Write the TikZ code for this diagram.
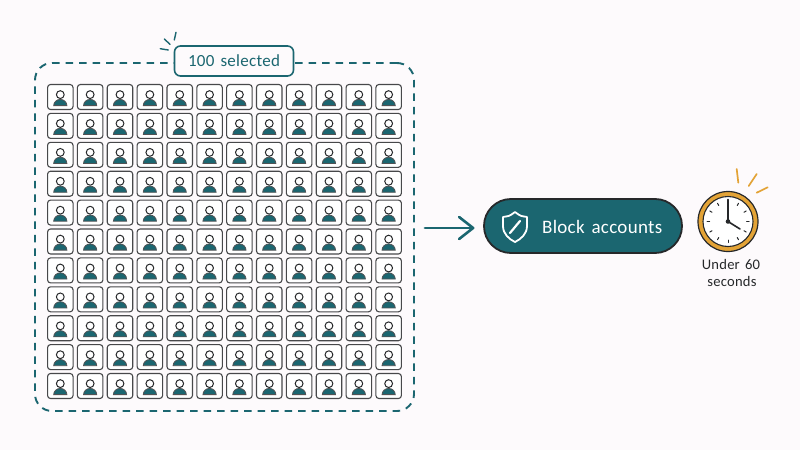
\documentclass[tikz,border=0pt]{standalone}
\usepackage{fontspec}
\usetikzlibrary{calc}
\setmainfont{Carlito}[LetterSpace=1.5,WordSpace=1.5]
\definecolor{pagebg}{HTML}{FDFAFC}
\definecolor{teal}{HTML}{1B6670}
\definecolor{ink}{HTML}{26282A}
\definecolor{gold}{HTML}{E3A336}
\tikzset{
  x=1pt,y=-1pt,
  userbox/.style={draw=ink!85,line width=1.1pt,rounded corners=3pt,fill=white,minimum width=25.5pt,minimum height=25pt,inner sep=0pt},
  frame/.style={draw=teal,line width=1.9pt,dashed,dash pattern=on 7.5pt off 6pt,rounded corners=17pt,minimum width=379pt,minimum height=348pt,inner sep=0pt},
  badge/.style={draw=teal,line width=1.6pt,rounded corners=6pt,fill=pagebg,text=teal,minimum width=119pt,minimum height=30pt,inner sep=0pt,font=\fontsize{17}{18}\selectfont},
  action/.style={draw=ink,line width=1.8pt,fill=teal,rounded corners=26.9pt,minimum width=198pt,minimum height=54pt,inner sep=0pt},
  actiontext/.style={text=white,inner sep=0pt,font=\fontsize{19}{22}\selectfont},
  caption/.style={text=ink,inner sep=0pt,font=\fontsize{14.6}{16}\selectfont},
  flow/.style={draw=teal,line width=2.6pt,line cap=round,line join=round},
  sparkteal/.style={draw=teal,line width=1.4pt,line cap=round},
  sparkgold/.style={draw=gold,line width=1.7pt,line cap=round},
}
\begin{document}
\begin{tikzpicture}
\useasboundingbox[fill=pagebg] (0,0) rectangle (800,450);
\node[frame] (fr) at (224.5,237) {};
\foreach \r in {0,...,10}{
  \foreach \c in {0,...,11}{
    \pgfmathsetmacro{\cx}{60.3+\c*29.85}
    \pgfmathsetmacro{\cy}{97+\r*28.9}
    \node[userbox] (u\r-\c) at (\cx,\cy) {};
    \fill[teal,draw=ink!80,line width=0.8pt] (\cx-6.6,\cy+8.6) arc[start angle=180,end angle=360,x radius=6.6,y radius=6.2] -- cycle;
    \draw[ink,line width=1pt,fill=white] (\cx,\cy-2.4) circle[radius=3.9];
  }
}
\node[badge] (bd) at (234,61) {100 selected};
\draw[sparkteal] (176,32.3) -- (174.3,40);
\draw[sparkteal] (164.3,39) -- (170,44.3);
\draw[sparkteal] (160.3,48.7) -- (168.3,50);
\node[action] (pl) at (583,226) {};
\node[actiontext,anchor=west] (pt) at (542,227) {Block accounts};
\coordinate (tip) at ($(pl.west)+(-10,2)$);
\draw[flow,shorten <=10pt] (fr.east |- tip) -- (tip);
\draw[flow] ($(tip)+(-14,-11)$) -- (tip) -- ($(tip)+(-14,11)$);
% shield
\draw[white,line width=1.8pt,line join=round] (515,212) .. controls (510,216) and (507,217) .. (503,217) -- (503,226) .. controls (503,234) and (509,239) .. (515,242) .. controls (521,239) and (527,234) .. (527,226) -- (527,217) .. controls (523,217) and (520,216) .. (515,212) -- cycle;
\draw[white,line width=2.2pt,line cap=round] (510,233) -- (520,221);
% clock
\node[circle,draw=ink,line width=1.2pt,fill=gold,minimum size=60pt,inner sep=0pt] (ck) at (728,221.5) {};
\node[circle,draw=ink,line width=1.1pt,fill=white,minimum size=50pt,inner sep=0pt] (cf) at (ck.center) {};
\foreach \a in {0,30,...,330}{
  \draw[ink,line width=1pt,line cap=round] ($(ck.center)+(\a:18.5)$) -- ($(ck.center)+(\a:21)$);
}
\draw[ink,line width=1.6pt,line cap=round] (ck.center) -- ++(0,-22);
\draw[ink,line width=1.6pt,line cap=round] (ck.center) -- ++(12,7.5);
\fill[ink] (ck.center) circle[radius=2.3];
\draw[sparkgold] (736.7,169) -- (738.3,182.7);
\draw[sparkgold] (756.7,174) -- (748.7,186);
\draw[sparkgold] (767.7,187.3) -- (756.7,192.7);
\node[caption] (c1) at (731,264) {Under 60};
\node[caption] (c2) at (732,281) {seconds};
\end{tikzpicture}
\end{document}
